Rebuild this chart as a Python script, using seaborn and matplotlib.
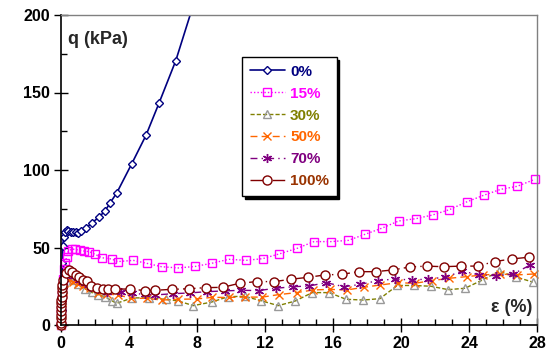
import matplotlib
matplotlib.use("Agg")
import matplotlib.pyplot as plt
from matplotlib.ticker import MultipleLocator
import seaborn as sns

# Deviator stress q (kPa) versus axial strain eps (%) for several contents
x0 = [0, 0.03, 0.05, 0.08, 0.11, 0.15, 0.23, 0.33, 0.43, 0.57, 0.72, 0.88, 1.02, 1.2,
      1.47, 1.84, 2.24, 2.6, 2.9, 3.27, 4.16, 5.0, 5.76, 6.75, 8.6]
y0 = [0, 10, 22, 40, 51, 57, 60, 61, 60.5, 60, 60, 60, 59.5, 60.5,
      62.4, 66, 69.7, 73.7, 79, 85, 104, 122.4, 143, 170.5, 235]

x15 = [0, 0.02, 0.05, 0.1, 0.17, 0.24, 0.33, 0.43, 0.63, 0.82, 1.12, 1.37, 1.67, 2.0,
       2.4, 2.98, 3.33, 4.25, 5.04, 5.92, 6.9, 7.9, 8.86, 9.88, 10.88, 11.86, 12.85,
       13.9, 14.88, 15.86, 16.9, 17.88, 18.86, 19.86, 20.88, 21.86, 22.84, 23.86,
       24.86, 25.86, 26.84, 27.88]
y15 = [0, 10, 20, 30, 36, 40, 44, 47.7, 49, 48.8, 48.2, 47.7, 47.3, 45.6,
       43.4, 42.6, 40.9, 41.7, 39.8, 37.6, 36.8, 37.8, 39.8, 42.4, 41.7, 42.8, 45.9,
       49.5, 53.8, 53.8, 54.6, 58.5, 62.4, 67.1, 68.6, 71, 74.4, 79.4,
       83.7, 87.5, 89.5, 94]

x30 = [0, 0.02, 0.05, 0.1, 0.2, 0.4, 0.7, 1.0, 1.4, 1.8, 2.2, 2.59, 2.98, 3.27, 4.2,
       5.2, 6.2, 6.9, 7.78, 8.86, 9.84, 10.8, 11.76, 12.78, 13.76, 14.78, 15.78,
       16.76, 17.78, 18.76, 19.78, 20.76, 21.76, 22.78, 23.76, 24.75, 25.76, 26.76, 27.75]
y30 = [0, 8, 16, 23, 28, 31, 29, 26.5, 23.5, 21, 19.4, 18.3, 15.7, 14, 17.5,
       17.5, 16.5, 15.5, 12.5, 14.8, 18.3, 18.5, 15.7, 12.5, 15.4, 20.9, 20.9,
       16.6, 16.1, 17, 25.5, 25.5, 25, 22.8, 23.7, 28.8, 34.7, 31, 27.7]

x50 = [0, 0.02, 0.05, 0.1, 0.2, 0.43, 0.7, 1.0, 1.3, 1.7, 2.15, 2.7, 3.37, 4.1, 5.04,
       5.92, 6.9, 7.98, 8.86, 9.9, 10.84, 11.84, 12.8, 13.86, 14.84, 15.8, 16.8, 17.8,
       18.76, 19.84, 20.8, 21.8, 22.8, 23.86, 24.84, 25.8, 26.8, 27.8]
y50 = [0, 7, 15, 22, 27, 29, 28, 26.5, 25, 23.7, 20.4, 20, 19.4, 17.2, 17.2,
       16.1, 16.6, 16.8, 17.8, 17.8, 18, 18, 19.6, 20.9, 22.6, 23, 22.6, 24.3,
       25.8, 27.3, 26.9, 28.6, 30.1, 31.2, 32.3, 32.9, 32.3, 32.9]

x70 = [0, 0.02, 0.05, 0.1, 0.2, 0.45, 0.75, 1.05, 1.4, 1.75, 2.2, 2.7, 3.5, 4.2, 4.94,
       5.55, 6.6, 7.6, 8.57, 9.62, 10.6, 11.62, 12.62, 13.67, 14.6, 15.6, 16.65, 17.6,
       18.63, 19.65, 20.63, 21.6, 22.6, 23.6, 24.6, 25.6, 26.6, 27.6]
y70 = [0, 8, 17, 25, 30, 33, 31.5, 29, 27, 24.5, 23, 21.5, 21.5, 20.5, 19.7,
       19.4, 20.2, 20.7, 21.5, 22, 22.4, 22.2, 23.7, 24.7, 25.2, 27.3, 24.7, 26.2,
       28.6, 29.7, 29, 29.7, 30.8, 34.8, 32.3, 31.8, 32.9, 38.7]

x100 = [0, 0.004, 0.008, 0.012, 0.016, 0.02, 0.024, 0.028, 0.032, 0.036, 0.04, 0.05,
        0.12, 0.28, 0.47, 0.67, 0.86, 1.06, 1.31, 1.5, 1.75, 2.1, 2.45, 2.78, 3.18,
        4.06, 4.94, 5.53, 6.52, 7.55, 8.5, 9.5, 10.5, 11.5, 12.53, 13.53, 14.55,
        15.53, 16.5, 17.53, 18.5, 19.5, 20.5, 21.5, 22.5, 23.5, 24.5, 25.5, 26.5, 27.5]
y100 = [0, 1.5, 4.3, 6.5, 9.2, 11.4, 14, 16, 18.3, 21.5, 23.7, 26,
        29, 33.3, 35.8, 34.2, 32.3, 30.8, 29.3, 28.5, 25.2, 24.1, 23.2, 23.2, 23.2,
        23.2, 22.2, 22.4, 23, 23.4, 24.1, 24.3, 26.9, 28, 28, 29.5, 30.8,
        32.3, 32.7, 34.4, 34.4, 35.5, 37.4, 38, 37.6, 38, 38, 40.9, 42.6, 43.7]

labels = ["0%", "15%", "30%", "50%", "70%", "100%"]
label_colors = ["#000080", "#FF00FF", "#808000", "#FF6600", "#800080", "#993300"]

sns.set_style("ticks")
plt.rcParams["font.family"] = ["Liberation Sans", "DejaVu Sans"]
plt.rcParams["font.weight"] = "bold"

fig = plt.figure(figsize=(5.5, 3.56), dpi=100)
ax = fig.add_axes([61 / 550, 31 / 356, 476 / 550, 310 / 356])

series = [
    dict(x=x0, y=y0, color="#000080", marker="D", ms=4, mfc="white", mec="#000080",
         ls="-", lw=1.2, clip=True),
    dict(x=x15, y=y15, color="#FF00FF", marker="s", ms=5.5, mfc="none", mec="#FF00FF",
         ls=(0, (1, 1.5)), lw=1.0, clip=False),
    dict(x=x30, y=y30, color="#808000", marker="^", ms=5.5, mfc="none", mec="#999999",
         ls=(0, (3, 1.5)), lw=1.0, clip=False),
    dict(x=x50, y=y50, color="#FF6600", marker="x", ms=5.5, mfc="none", mec="#FF6600",
         ls=(0, (5, 3)), lw=1.0, clip=False),
    dict(x=x70, y=y70, color="#800080", marker=(6, 2, 0), ms=6.5, mfc="none", mec="#800080",
         ls=(0, (5, 3, 1, 3)), lw=1.0, clip=False),
    dict(x=x100, y=y100, color="#800000", marker="o", ms=6.5, mfc="white", mec="#800000",
         ls=(0, (9, 3, 1, 3)), lw=1.0, clip=False),
]

for s, lab in zip(series, labels):
    sns.lineplot(x=s["x"], y=s["y"], ax=ax, sort=False, estimator=None,
                 color=s["color"], marker=s["marker"], markersize=s["ms"],
                 markerfacecolor=s["mfc"], markeredgecolor=s["mec"], markeredgewidth=1.0,
                 linestyle=s["ls"], linewidth=s["lw"], label=lab, clip_on=s["clip"])

ax.set_xlim(0, 28)
ax.set_ylim(0, 200)
ax.xaxis.set_major_locator(MultipleLocator(4))
ax.xaxis.set_minor_locator(MultipleLocator(1))
ax.yaxis.set_major_locator(MultipleLocator(50))
ax.yaxis.set_minor_locator(MultipleLocator(25))
ax.tick_params(which="major", direction="inout", length=10, width=1.0, colors="black",
               labelsize=11.5, pad=3)
ax.tick_params(which="minor", direction="in", length=4, width=1.0, colors="black")
for lbl in ax.get_xticklabels() + ax.get_yticklabels():
    lbl.set_fontweight("bold")
ax.set_xlabel("")
ax.set_ylabel("")

for side in ["left", "bottom"]:
    ax.spines[side].set_color("black")
    ax.spines[side].set_linewidth(1.2)
for side in ["top", "right"]:
    ax.spines[side].set_visible(True)
    ax.spines[side].set_color("#808080")
    ax.spines[side].set_linewidth(1.0)

ax.text(0.015, 0.95, "q (kPa)", transform=ax.transAxes, fontsize=13,
        fontweight="bold", ha="left", va="top")
ax.text(0.99, 0.03, "ε (%)", transform=ax.transAxes, fontsize=13,
        fontweight="bold", ha="right", va="bottom")

leg = ax.legend(loc="upper left", bbox_to_anchor=(0.380, 0.8645), borderaxespad=0,
                frameon=True, fancybox=False, fontsize=11, handlelength=2.3,
                handletextpad=0.35, labelspacing=0.52, borderpad=0.5,
                shadow={"facecolor": "black", "edgecolor": "black", "alpha": 1})
leg.get_frame().set_edgecolor("black")
leg.get_frame().set_linewidth(1.0)
leg.get_frame().set_alpha(1)
for txt, c in zip(leg.get_texts(), label_colors):
    txt.set_color(c)
    txt.set_fontweight("bold")

fig.savefig("out.png", dpi=100)
